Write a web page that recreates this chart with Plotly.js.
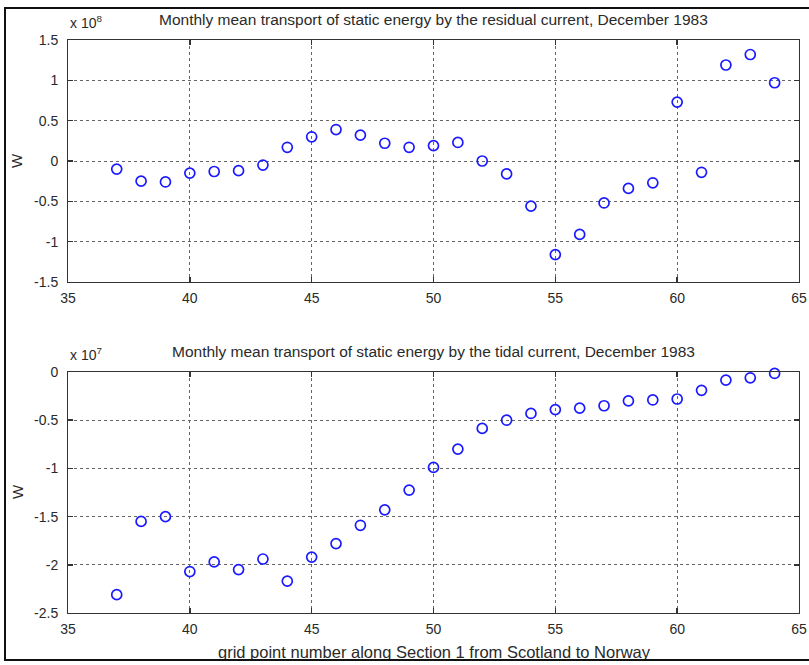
<!DOCTYPE html>
<html>
<head>
<meta charset="utf-8">
<script src="https://cdn.plot.ly/plotly-3.0.1.min.js"></script>
<style>
  html, body { margin: 0; padding: 0; background: #fff; }
  #wrap { position: relative; width: 809px; height: 665px; overflow: hidden; }
  #frame { position: absolute; left: 4px; top: 7px; width: 830px; height: 654px;
           border: 2px solid #111; box-sizing: border-box; pointer-events: none; z-index: 5; }
  #chart { position: absolute; left: 0; top: 0; width: 809px; height: 665px; }
</style>
</head>
<body>
<div id="wrap">
  <div id="chart"></div>
  <div id="frame"></div>
</div>
<script>
// grid point numbers
const gridPoints = [37,38,39,40,41,42,43,44,45,46,47,48,49,50,51,52,53,54,55,56,57,58,59,60,61,62,63,64];

// residual current transport, units of 1e8 W
const residual = [-0.10,-0.25,-0.26,-0.15,-0.13,-0.12,-0.05,0.17,0.30,0.39,0.32,0.22,0.17,
                  0.19,0.23,0.00,-0.16,-0.56,-1.16,-0.91,-0.52,-0.34,-0.27,0.73,-0.14,1.19,1.32,0.97];

// tidal current transport, units of 1e7 W
const tidal = [-2.31,-1.55,-1.50,-2.07,-1.97,-2.05,-1.94,-2.17,-1.92,-1.78,-1.59,-1.43,-1.225,
               -0.99,-0.80,-0.585,-0.50,-0.43,-0.39,-0.375,-0.35,-0.30,-0.29,-0.28,-0.19,-0.085,-0.06,-0.015];

const xTicks = [35,40,45,50,55,60,65];
const xTickText = ['35','40','45','50','55','60','65'];
const yTopTicks = [-1.5,-1,-0.5,0,0.5,1,1.5];
const yTopTickText = ['-1.5','-1','-0.5','0','0.5','1','1.5'];
const yBotTicks = [-2.5,-2,-1.5,-1,-0.5,0];
const yBotTickText = ['-2.5','-2','-1.5','-1','-0.5','0'];

const titleTop = 'Monthly mean transport of static energy by the residual current, December 1983';
const titleBot = 'Monthly mean transport of static energy by the tidal current, December 1983';
const xLabel = 'grid point number along Section 1 from Scotland to Norway';
const yLabel = 'W';
const expTop = 'x 10<sup>8</sup>';
const expBot = 'x 10<sup>7</sup>';

const W = 809, H = 665;
const px = v => v / W;
const py = v => 1 - v / H;

const fontFam = '"Liberation Sans", Arial, sans-serif';
const txtColor = '#2a2a2a';
const marker = { symbol: 'circle-open', size: 10, color: '#1a1aff', line: { width: 1.7, color: '#1a1aff' } };

const traces = [
  { x: gridPoints, y: residual, type: 'scatter', mode: 'markers', marker: marker, xaxis: 'x', yaxis: 'y', showlegend: false, cliponaxis: false },
  { x: gridPoints, y: tidal, type: 'scatter', mode: 'markers', marker: marker, xaxis: 'x2', yaxis: 'y2', showlegend: false, cliponaxis: false }
];

const axCommon = {
  showgrid: true, gridcolor: '#666', griddash: 'dot', gridwidth: 1,
  showline: true, linecolor: '#333', linewidth: 1, mirror: 'ticks',
  ticks: 'inside', ticklen: 5, tickcolor: '#333', tickwidth: 1.5,
  zeroline: false, tickmode: 'array',
  tickfont: { family: fontFam, size: 14, color: txtColor }
};

const layout = {
  width: W, height: H,
  margin: { l: 0, r: 0, t: 0, b: 0 },
  paper_bgcolor: '#fff', plot_bgcolor: '#fff',
  font: { family: fontFam, size: 14, color: txtColor },
  xaxis: Object.assign({}, axCommon, { domain: [px(68), px(799)], range: [35, 65], tickvals: xTicks, ticktext: xTickText, anchor: 'y', ticklabelstandoff: 3 }),
  yaxis: Object.assign({}, axCommon, { domain: [py(282), py(40)], range: [-1.5, 1.5], tickvals: yTopTicks, ticktext: yTopTickText, anchor: 'x', ticklabelstandoff: 6 }),
  xaxis2: Object.assign({}, axCommon, { domain: [px(68), px(799)], range: [35, 65], tickvals: xTicks, ticktext: xTickText, anchor: 'y2', ticklabelstandoff: 3 }),
  yaxis2: Object.assign({}, axCommon, { domain: [py(613), py(372)], range: [-2.5, 0], tickvals: yBotTicks, ticktext: yBotTickText, anchor: 'x2', ticklabelstandoff: 6 }),
  annotations: [
    { text: titleTop, xref: 'paper', yref: 'paper', x: px(433), y: py(19), xanchor: 'center', yanchor: 'middle', showarrow: false, font: { family: fontFam, size: 15.5, color: txtColor } },
    { text: titleBot, xref: 'paper', yref: 'paper', x: px(433), y: py(352), xanchor: 'center', yanchor: 'middle', showarrow: false, font: { family: fontFam, size: 15.5, color: txtColor } },
    { text: expTop, xref: 'paper', yref: 'paper', x: px(68), y: py(22), xanchor: 'left', yanchor: 'middle', showarrow: false, font: { family: fontFam, size: 14, color: txtColor } },
    { text: expBot, xref: 'paper', yref: 'paper', x: px(68), y: py(354), xanchor: 'left', yanchor: 'middle', showarrow: false, font: { family: fontFam, size: 14, color: txtColor } },
    { text: yLabel, xref: 'paper', yref: 'paper', x: px(17), y: py(161), xanchor: 'center', yanchor: 'middle', textangle: -90, showarrow: false, font: { family: fontFam, size: 15, color: txtColor } },
    { text: yLabel, xref: 'paper', yref: 'paper', x: px(17), y: py(492), xanchor: 'center', yanchor: 'middle', textangle: -90, showarrow: false, font: { family: fontFam, size: 15, color: txtColor } },
    { text: xLabel, xref: 'paper', yref: 'paper', x: px(434), y: py(652), xanchor: 'center', yanchor: 'middle', showarrow: false, font: { family: fontFam, size: 16.5, color: txtColor } }
  ]
};

Plotly.newPlot('chart', traces, layout, { displayModeBar: false, staticPlot: true });
</script>
</body>
</html>
